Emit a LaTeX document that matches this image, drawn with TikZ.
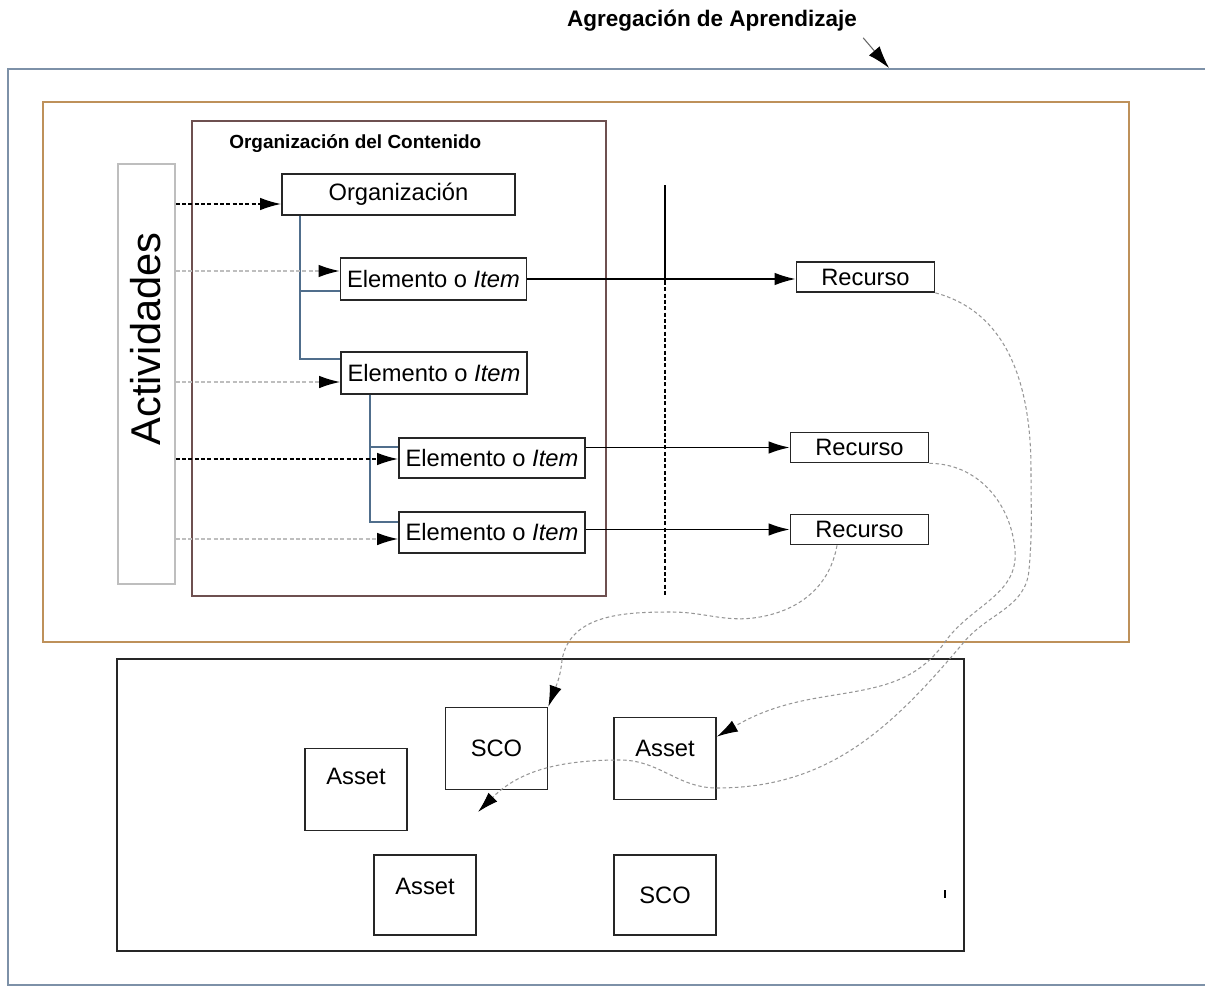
\documentclass[tikz,border=0pt]{standalone}
\usepackage{fontspec}
\setmainfont{Liberation Sans}
\usetikzlibrary{arrows.meta,positioning}

\definecolor{azul}{RGB}{125,145,168}
\definecolor{naranja}{RGB}{190,145,90}
\definecolor{marron}{RGB}{110,80,80}
\definecolor{gris}{RGB}{190,190,190}
\definecolor{grisc}{RGB}{150,150,150}
\definecolor{arbol}{RGB}{80,110,140}

\begin{document}
\begin{tikzpicture}[x=0.02cm,y=-0.02cm,
  box/.style={draw=black!85,line width=1pt,inner sep=0pt,font=\fontsize{13.5}{16}\selectfont},
  elem/.style={box,minimum width=3.72cm,minimum height=0.83cm},
  recurso/.style={box,minimum width=2.76cm,minimum height=0.6cm},
  pieza/.style={box,minimum width=2.04cm,minimum height=1.64cm},
  lbl/.style={font=\fontsize{13.5}{16}\selectfont,inner sep=0pt},
  punta/.style={-{Latex[length=0.42cm,width=0.25cm,color=black]}},
  flecha/.style={punta,line width=0.9pt},
  guion/.style={flecha,dash pattern=on 2.3pt off 1.3pt},
  guiongris/.style={punta,draw=gris,line width=0.8pt,dash pattern=on 2.3pt off 1.3pt},
  curva/.style={punta,draw=grisc,line width=0.6pt,dash pattern=on 2pt off 1.5pt},
  rama/.style={draw=arbol,line width=0.9pt}]
  \useasboundingbox (0,0) rectangle (1205,987);

  \node[font=\bfseries\fontsize{12.8}{15}\selectfont] (titulo) at (712,21) {Agregación de Aprendizaje};
  \coordinate (borde) at (889,68);
  \draw[-{Latex[length=0.45cm,width=0.28cm,color=black]},line width=0.6pt,draw=black!60] (titulo.south east) -- (borde);

  \draw[azul,line width=1.2pt] (1205,69) -- (8,69) -- (8,985) -- (1205,985);
  \draw[naranja,line width=1.2pt] (43,102) rectangle (1129,642);
  \draw[marron,line width=1.1pt] (192,121) rectangle (606,596);
  \draw[black!85,line width=1pt] (117,659) rectangle (964,951);

  \node[font=\bfseries\fontsize{10.8}{13}\selectfont,anchor=west,inner sep=0pt] (orgcont) at (229,144) {Organización del Contenido};

  \node[draw=gris,line width=0.9pt,minimum width=1.14cm,minimum height=8.4cm] (act) at (146.5,374) {};
  \node[rotate=90,font=\fontsize{23.7}{28}\selectfont,inner sep=0pt] (acttxt) at (146,339) {Actividades};

  \node[elem,minimum width=4.66cm] (org) at (398.5,194.5) {Organización};
  \node[elem] (el1) at (433.5,279) {Elemento o \textit{Item}};
  \node[elem] (el2) at (434,373) {Elemento o \textit{Item}};
  \node[elem,minimum height=0.8cm] (el3) at (492,458) {Elemento o \textit{Item}};
  \node[elem] (el4) at (492,532.5) {Elemento o \textit{Item}};

  \node[recurso] (r1) at (865.5,277) {Recurso};
  \node[recurso] (r2) at (859.5,447.5) {Recurso};
  \node[recurso] (r3) at (859.5,529.5) {Recurso};

  \node[pieza,label={[lbl,yshift=0.27cm]center:Asset}] (a1) at (356,789.5) {};
  \node[pieza] (s1) at (496.5,748.5) {SCO};
  \node[pieza,label={[lbl,yshift=0.21cm]center:Asset}] (a3) at (665,758.5) {};
  \node[pieza,minimum height=1.6cm,label={[lbl,yshift=0.18cm]center:Asset}] (a2) at (425,895) {};
  \node[pieza,minimum height=1.6cm] (s2) at (665,895) {SCO};

  \coordinate (vtop) at (665,185);
  \coordinate (vmid) at (665,281);
  \coordinate (vbot) at (665,595);
  \draw[line width=0.9pt] (vtop) -- (vmid);
  \draw[line width=0.9pt,dash pattern=on 2.3pt off 1.3pt] (vmid) -- (vbot);

  \draw[rama] (org.south -| 300,0) |- (el2.west |- 0,359);
  \draw[rama] (300,291) -- (el1.west |- 0,291);
  \draw[rama] (el2.south -| 370,0) |- (el4.west |- 0,522);
  \draw[rama] (370,447) -- (el3.west |- 0,447);

  \draw[guion] (act.east |- 0,204) -- (org.west |- 0,204);
  \draw[guiongris] (act.east |- 0,271) -- (el1.west |- 0,271);
  \draw[guiongris] (act.east |- 0,382) -- (el2.west |- 0,382);
  \draw[guion] (act.east |- 0,459) -- (el3.west |- 0,459);
  \draw[guiongris] (act.east |- 0,539) -- (el4.west |- 0,539);

  \draw[flecha] (el1.east) -- (el1.east -| r1.west);
  \draw[flecha] (el3.east |- r2.west) -- (r2.west);
  \draw[flecha] (el4.east |- r3.west) -- (r3.west);

  \coordinate (libre) at (478,812);
  \draw[curva] (r1.south east) to[out=-15,in=90] (1031,470) to[out=-90,in=85] (1029,570)
    to[out=-95,in=50] (964,642) to[out=230,in=0] (717,788) to[out=180,in=0] (620,760)
    to[out=180,in=45] (libre);
  \draw[curva] (r2.south east) to[out=0,in=95] (1015,550) to[out=-85,in=55] (945,642)
    to[out=235,in=10] (817,698) to[out=190,in=30] ([yshift=-0.4cm]a3.north east);
  \draw[curva] ([xshift=-0.45cm]r3.south) to[out=-100,in=10] (760,617) to[out=190,in=0] (671,612)
    to[out=180,in=80] (562,660) to[out=-95,in=70] (s1.north east);

  \draw[line width=1pt] (945,890) -- (945,898);
\end{tikzpicture}
\end{document}
